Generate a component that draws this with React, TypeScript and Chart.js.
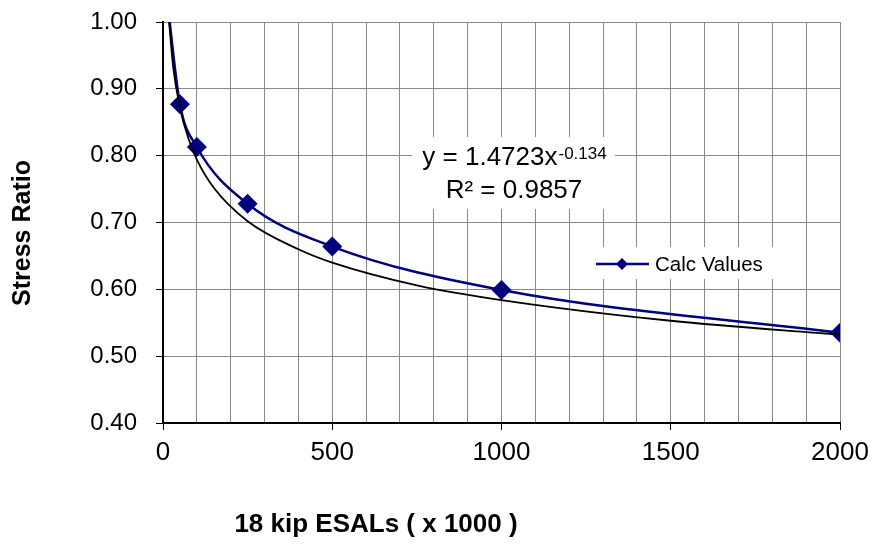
import React, { useEffect, useRef } from "react";
import { Chart, registerables } from "chart.js";

Chart.register(...registerables);

// Calc Values series (first point lies just above the plot top, line enters from the top edge)
const calcX = [15, 50, 100, 250, 500, 1000, 2000];
const calcY = [1.02, 0.877, 0.813, 0.728, 0.664, 0.599, 0.535];
const calcRadius = [0, 10, 10, 10, 10, 10, 10];

// Power trendline
const trendX = [18, 30, 50, 75, 100, 150, 250, 400, 500, 750, 1000, 1500, 2000];
const trendY = [1.0, 0.933, 0.872, 0.826, 0.794, 0.752, 0.702, 0.66, 0.64, 0.606, 0.584, 0.553, 0.532];

const xMin = 0;
const xMax = 2000;
const xGridStep = 100;
const xLabelStep = 500;
const yMin = 0.4;
const yMax = 1.0;
const yStep = 0.1;

const seriesName = "Calc Values";
const equationMain = "y = 1.4723x";
const equationExp = "-0.134";
const rSquaredText = "R² = 0.9857";
const xTitle = "18 kip ESALs ( x 1000 )";
const yTitle = "Stress Ratio";

const FONT = '"Liberation Sans", Arial, Helvetica, sans-serif';
const NAVY = "#000080";

const overlayPlugin = {
  id: "overlay",
  afterDraw(chart: any) {
    const ctx = chart.ctx as CanvasRenderingContext2D;
    const area = chart.chartArea;
    ctx.save();

    // Equation box
    const eqCx = area.left + 351;
    ctx.fillStyle = "#ffffff";
    ctx.fillRect(area.left + 249, area.top + 115, 203, 72);
    ctx.fillStyle = "#000";
    ctx.textBaseline = "alphabetic";
    ctx.textAlign = "left";
    ctx.font = `26px ${FONT}`;
    const wMain = ctx.measureText(equationMain).width;
    ctx.font = `17px ${FONT}`;
    const wExp = ctx.measureText(equationExp).width;
    const startX = eqCx - (wMain + wExp) / 2;
    ctx.font = `26px ${FONT}`;
    ctx.fillText(equationMain, startX, area.top + 143);
    ctx.font = `17px ${FONT}`;
    ctx.fillText(equationExp, startX + wMain + 1, area.top + 137);
    ctx.font = `26px ${FONT}`;
    ctx.textAlign = "center";
    ctx.fillText(rSquaredText, eqCx, area.top + 176);

    // Legend box
    ctx.fillStyle = "#ffffff";
    ctx.fillRect(area.left + 422, area.top + 225, 200, 32);
    const ly = area.top + 242;
    ctx.strokeStyle = NAVY;
    ctx.lineWidth = 2.5;
    ctx.beginPath();
    ctx.moveTo(area.left + 433, ly);
    ctx.lineTo(area.left + 486, ly);
    ctx.stroke();
    ctx.fillStyle = NAVY;
    const dx = area.left + 459;
    const r = 6;
    ctx.beginPath();
    ctx.moveTo(dx, ly - r);
    ctx.lineTo(dx + r, ly);
    ctx.lineTo(dx, ly + r);
    ctx.lineTo(dx - r, ly);
    ctx.closePath();
    ctx.fill();
    ctx.fillStyle = "#000";
    ctx.textAlign = "left";
    ctx.textBaseline = "middle";
    ctx.font = `20.5px ${FONT}`;
    ctx.fillText(seriesName, area.left + 492, ly + 1);

    // Axis titles
    ctx.font = `bold 26px ${FONT}`;
    ctx.textAlign = "center";
    ctx.textBaseline = "middle";
    ctx.fillText(xTitle, area.left + 213, 525);
    ctx.save();
    ctx.translate(23, 233);
    ctx.rotate(-Math.PI / 2);
    ctx.font = `bold 25px ${FONT}`;
    ctx.fillText(yTitle, 0, 0);
    ctx.restore();

    ctx.restore();
  },
};

export default function App() {
  const canvasRef = useRef<HTMLCanvasElement | null>(null);

  useEffect(() => {
    if (!canvasRef.current) return;
    const chart = new Chart(canvasRef.current, {
      type: "scatter",
      data: {
        datasets: [
          {
            label: "Trend",
            data: trendX.map((x, i) => ({ x, y: trendY[i] })),
            showLine: true,
            borderColor: "#000000",
            borderWidth: 1.8,
            pointRadius: 0,
            cubicInterpolationMode: "monotone",
            fill: false,
          },
          {
            label: seriesName,
            data: calcX.map((x, i) => ({ x, y: calcY[i] })),
            showLine: true,
            borderColor: NAVY,
            backgroundColor: NAVY,
            borderWidth: 2.5,
            pointStyle: "rectRot",
            pointRadius: calcRadius,
            pointBackgroundColor: NAVY,
            pointBorderColor: NAVY,
            pointBorderWidth: 0,
            cubicInterpolationMode: "monotone",
            fill: false,
          },
        ],
      },
      options: {
        animation: false,
        responsive: true,
        maintainAspectRatio: false,
        layout: { padding: { left: 0, top: 22, right: 35, bottom: 0 } },
        plugins: {
          legend: { display: false },
          tooltip: { enabled: false },
          title: { display: false },
        },
        scales: {
          x: {
            type: "linear",
            min: xMin,
            max: xMax,
            afterFit: (scale: any) => {
              scale.height = 121;
              scale.paddingLeft = 0;
              scale.paddingRight = 0;
            },
            ticks: {
              stepSize: xGridStep,
              autoSkip: false,
              maxRotation: 0,
              padding: 7,
              color: "#000",
              font: { family: FONT, size: 26 },
              callback: (v: any) => (Number(v) % xLabelStep === 0 ? String(v) : ""),
            },
            grid: {
              color: "#888888",
              lineWidth: 1,
              tickLength: 7,
              tickColor: (c: any) =>
                c.tick && Number(c.tick.value) % xLabelStep === 0 ? "#000" : "rgba(0,0,0,0)",
            },
            border: { display: true, color: "#000", width: 2 },
          },
          y: {
            type: "linear",
            min: yMin,
            max: yMax,
            afterFit: (scale: any) => {
              scale.width = 163;
              scale.paddingTop = 0;
              scale.paddingBottom = 0;
            },
            ticks: {
              stepSize: yStep,
              padding: 19,
              color: "#000",
              font: { family: FONT, size: 24 },
              callback: (v: any) => Number(v).toFixed(2),
            },
            grid: {
              color: "#888888",
              lineWidth: 1,
              tickLength: 7,
              tickColor: "#000",
            },
            border: { display: true, color: "#000", width: 2 },
          },
        },
      },
      plugins: [overlayPlugin],
    } as any);
    return () => chart.destroy();
  }, []);

  return (
    <div style={{ position: "absolute", left: 0, top: 0, width: 875, height: 544, background: "#fff" }}>
      <canvas ref={canvasRef} />
    </div>
  );
}
